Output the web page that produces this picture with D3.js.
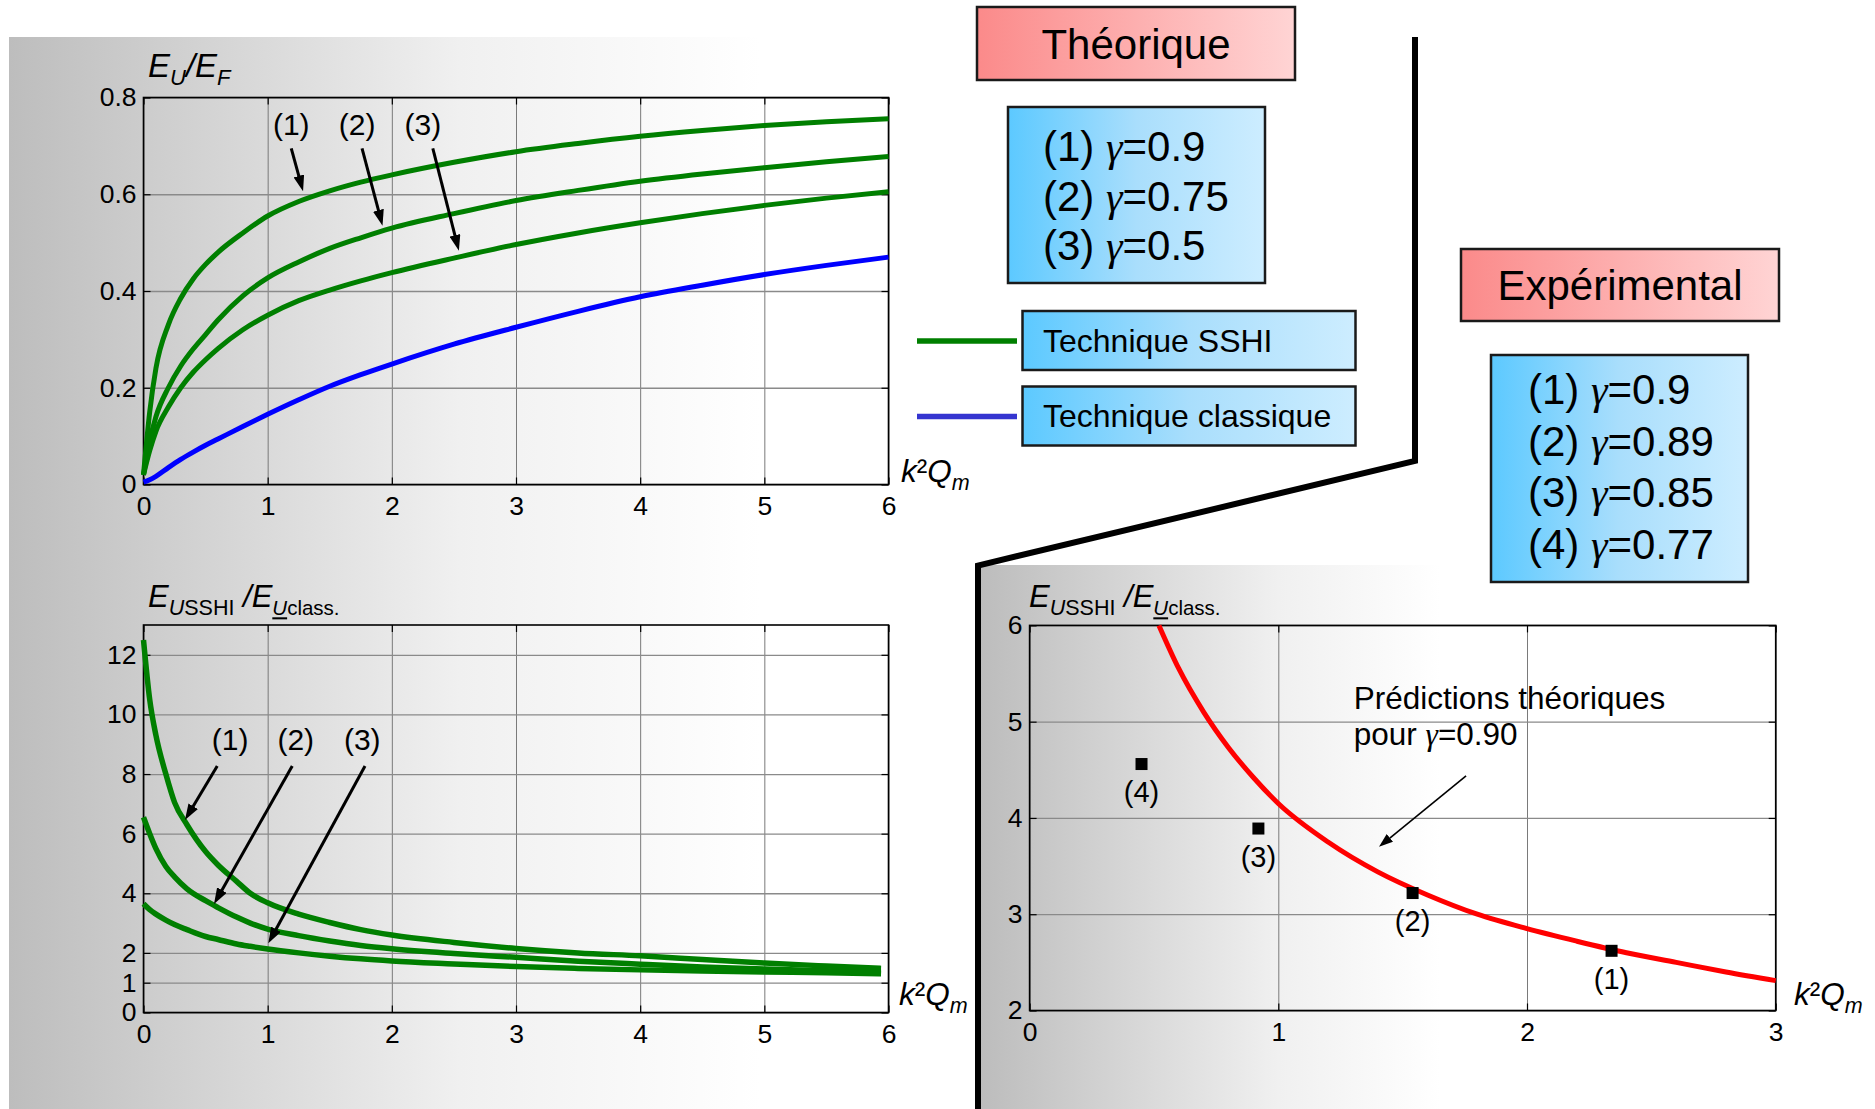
<!DOCTYPE html>
<html><head><meta charset="utf-8">
<script src="https://cdn.jsdelivr.net/npm/d3@7"></script>
<style>
body{margin:0;background:#fff;}
svg{display:block;font-family:"Liberation Sans",Arial,sans-serif;}
</style>
</head><body>
<svg id="c" width="1875" height="1109"></svg>
<script>
// ================= DATA =================
// Top plot: E_U/E_F vs k²Q_m (theory)
const kqTheo       = [0,0.05,0.1,0.2,0.3,0.4,0.5,0.6,0.8,1,1.25,1.5,1.75,2,2.5,3,3.5,4,4.5,5,5.5,6];
const euefG090     = [0.02,0.15,0.24,0.33,0.385,0.425,0.455,0.48,0.52,0.555,0.585,0.607,0.625,0.64,0.666,0.688,0.705,0.72,0.732,0.742,0.75,0.756];
const euefG075     = [0.02,0.09,0.14,0.2,0.245,0.28,0.31,0.34,0.39,0.427,0.46,0.488,0.51,0.53,0.56,0.587,0.608,0.627,0.642,0.655,0.667,0.678];
const euefG050     = [0.02,0.07,0.11,0.16,0.2,0.232,0.258,0.281,0.32,0.35,0.38,0.402,0.421,0.438,0.468,0.496,0.52,0.541,0.56,0.577,0.592,0.605];
const euefClassic  = [0.005,0.01,0.017,0.035,0.052,0.067,0.081,0.094,0.12,0.145,0.175,0.203,0.227,0.249,0.29,0.325,0.358,0.388,0.412,0.434,0.453,0.47];
// Bottom-left: E_USSHI/E_Uclass vs k²Q_m (theory)
const kqRatio      = [0,0.05,0.1,0.18,0.25,0.35,0.5,0.6,0.75,0.86,1,1.25,1.5,1.75,2,2.5,3,3.5,4,4.5,5,5.5,5.94];
const ratioG090    = [12.5,10.5,9.3,8.0,7.05,6.3,5.4,4.95,4.4,4.0,3.68,3.3,3.02,2.78,2.6,2.35,2.15,2.0,1.9,1.78,1.66,1.56,1.48];
const ratioG075    = [6.55,6.0,5.5,4.9,4.55,4.15,3.75,3.52,3.2,3.0,2.8,2.58,2.4,2.25,2.14,1.98,1.85,1.72,1.62,1.53,1.46,1.4,1.35];
const ratioG050    = [3.65,3.45,3.3,3.1,2.95,2.78,2.55,2.45,2.3,2.22,2.13,2.0,1.89,1.8,1.73,1.63,1.54,1.48,1.43,1.39,1.36,1.33,1.3];
// Bottom-right: prediction for gamma=0.90 and experimental points
const kqPred       = [0.52,0.6,0.7,0.8,0.9,1.0,1.2,1.4,1.6,1.8,2.0,2.2,2.4,2.6,2.8,3.0];
const predG090     = [6.0,5.55,5.1,4.73,4.42,4.15,3.75,3.44,3.2,3.0,2.85,2.72,2.6,2.5,2.4,2.31];
const expKq        = [2.34,1.54,0.92,0.45];
const expRatio     = [2.62,3.22,3.89,4.56];
const expLabels    = ["(1)","(2)","(3)","(4)"];
// Ticks
const topXTicks    = [0,1,2,3,4,5,6];
const topYTicks    = [0,0.2,0.4,0.6,0.8];
const blXTicks     = [0,1,2,3,4,5,6];
const blYTicks     = [0,1,2,4,6,8,10,12];
const brXTicks     = [0,1,2,3];
const brYTicks     = [2,3,4,5,6];
// Texts
const curveLabels  = ["(1)","(2)","(3)"];
const theoTitle    = "Théorique";
const expTitle     = "Expérimental";
const theoGammaIds = ["(1)","(2)","(3)"];
const theoGammas   = ["0.9","0.75","0.5"];
const expGammaIds  = ["(1)","(2)","(3)","(4)"];
const expGammas    = ["0.9","0.89","0.85","0.77"];
const legendNames  = ["Technique SSHI","Technique classique"];
const predText     = ["Prédictions théoriques","pour ","γ","=0.90"];
// Annotation anchors (data coordinates)
const topLabelX    = [1.19,1.72,2.25], topLabelY = 0.722;
const topArrowFrom = [[1.19,0.695],[1.76,0.695],[2.33,0.695]];
const topArrowTo   = [[1.285,0.606],[1.925,0.535],[2.54,0.483]];
const blLabelX     = [0.697,1.226,1.762], blLabelY = 8.8;
const blArrowFrom  = [[0.594,8.27],[1.198,8.27],[1.784,8.27]];
const blArrowTo    = [[0.334,6.46],[0.568,3.64],[1.005,2.32]];
const brArrowFrom  = [1.755,4.437], brArrowTo = [1.405,3.70];
const brTextPos    = [1.303,5.134,4.757];

// ================= DRAWING =================
const svg = d3.select('#c');
const defs = svg.append('defs');
const GREEN = '#007f00', BLUE = '#0000ff', RED = '#ff0000';

function linGrad(id, stops, units, x1, x2){
  const g = defs.append('linearGradient').attr('id', id);
  if (units) g.attr('gradientUnits','userSpaceOnUse').attr('x1',x1).attr('x2',x2).attr('y1',0).attr('y2',0);
  else g.attr('x1','0%').attr('x2','100%').attr('y1','0%').attr('y2','0%');
  stops.forEach(s => g.append('stop').attr('offset', s[0]).attr('stop-color', s[1]));
}
linGrad('bgL', [[0,'#bdbdbd'],[0.6,'#f0f0f0'],[1,'#ffffff']], true, 9, 760);
linGrad('bgR', [[0,'#bcbcbc'],[0.65,'#f0f0f0'],[1,'#ffffff']], true, 978, 1440);
linGrad('pink', [[0,'#fb8a8a'],[1,'#ffd4d4']]);
linGrad('blue', [[0,'#5cc9ff'],[0.5,'#a9defc'],[1,'#cdedff']]);

function marker(id, len, wid){
  defs.append('marker').attr('id',id).attr('markerUnits','userSpaceOnUse')
    .attr('markerWidth',len).attr('markerHeight',wid).attr('refX',len).attr('refY',wid/2)
    .attr('orient','auto').append('path').attr('d',`M0,0L${len},${wid/2}L0,${wid}Z`).attr('fill','#000');
}
marker('arrBig', 16, 11);
marker('arrSmall', 14, 10);

// background panels
svg.append('rect').attr('x',9).attr('y',37).attr('width',968).attr('height',1072).attr('fill','url(#bgL)');
svg.append('rect').attr('x',978).attr('y',565).attr('width',897).attr('height',544).attr('fill','url(#bgR)');

function makePlot(F, xd, yd, xt, yt, fmtY){
  const x = d3.scaleLinear().domain(xd).range([F.l, F.r]);
  const y = d3.scaleLinear().domain(yd).range([F.b, F.t]);
  const g = svg.append('g');
  const w = F.r - F.l, h = F.b - F.t;
  // grid
  g.append('g').attr('transform',`translate(0,${F.b})`)
    .call(d3.axisBottom(x).tickValues(xt).tickSize(-h).tickFormat(''))
    .call(a => { a.select('.domain').remove(); a.selectAll('line').attr('stroke','#7a7a7a').attr('stroke-width',1); });
  g.append('g').attr('transform',`translate(${F.l},0)`)
    .call(d3.axisLeft(y).tickValues(yt).tickSize(-w).tickFormat(''))
    .call(a => { a.select('.domain').remove(); a.selectAll('line').attr('stroke','#8a8a8a').attr('stroke-width',1.3); });
  // tick marks + labels
  const styleAx = a => { a.select('.domain').remove(); a.selectAll('line').attr('stroke','#000').attr('stroke-width',1.2);
    a.selectAll('text').attr('fill','#000').attr('font-size',26.5).attr('font-family','"Liberation Sans",Arial,sans-serif'); };
  g.append('g').attr('transform',`translate(0,${F.b})`)
    .call(d3.axisBottom(x).tickValues(xt).tickSize(-7).tickPadding(12).tickFormat(d3.format('d'))).call(styleAx);
  g.append('g').attr('transform',`translate(0,${F.t})`)
    .call(d3.axisTop(x).tickValues(xt).tickSize(-7).tickFormat('')).call(styleAx);
  g.append('g').attr('transform',`translate(${F.l},0)`)
    .call(d3.axisLeft(y).tickValues(yt).tickSize(-7).tickPadding(7).tickFormat(fmtY)).call(styleAx);
  g.append('g').attr('transform',`translate(${F.r},0)`)
    .call(d3.axisRight(y).tickValues(yt).tickSize(-7).tickFormat('')).call(styleAx);
  // box
  g.append('rect').attr('x',F.l).attr('y',F.t).attr('width',w).attr('height',h)
    .attr('fill','none').attr('stroke','#000').attr('stroke-width',1.6);
  return {x, y, g};
}

function drawCurve(P, xs, ys, color, sw){
  const line = d3.line().x(d => P.x(d[0])).y(d => P.y(d[1])).curve(d3.curveMonotoneX);
  P.g.append('path').datum(xs.map((v,i) => [v, ys[i]]))
    .attr('d', line).attr('fill','none').attr('stroke',color).attr('stroke-width',sw)
    .attr('stroke-linejoin','round').attr('stroke-linecap','butt');
}

function arrow(P, from, to, sw, mk, headLen){
  const x1 = P.x(from[0]), y1 = P.y(from[1]), x2 = P.x(to[0]), y2 = P.y(to[1]);
  const L = Math.hypot(x2-x1, y2-y1);
  const ex = x2 - (x2-x1)/L*headLen*0.6, ey = y2 - (y2-y1)/L*headLen*0.6;
  P.g.append('line').attr('x1',x1).attr('y1',y1).attr('x2',ex).attr('y2',ey)
    .attr('stroke','#000').attr('stroke-width',sw);
  P.g.append('path').attr('d',`M${x1},${y1}L${x2},${y2}`).attr('stroke','none').attr('fill','none')
    .attr('marker-end',`url(#${mk})`);
}

function kqLabel(x, y){
  const t = svg.append('text').attr('x',x).attr('y',y).attr('font-size',31.5).attr('font-style','italic');
  t.append('tspan').text('k');
  t.append('tspan').attr('font-style','normal').text('²');
  t.append('tspan').text('Q');
  t.append('tspan').attr('font-size',21.5).attr('dy',8).text('m');
}
function ratioLabel(x, y){
  const t = svg.append('text').attr('x',x).attr('y',y).attr('font-size',31);
  t.append('tspan').attr('font-style','italic').text('E');
  t.append('tspan').attr('font-size',21.5).attr('dy',8.3).attr('font-style','italic').text('U');
  t.append('tspan').attr('font-size',21.5).text('SSHI');
  t.append('tspan').attr('dy',-8.3).attr('font-style','italic').text(' /E');
  t.append('tspan').attr('font-size',20.5).attr('dy',8.3).attr('font-style','italic')
    .style('text-decoration','underline').text('U');
  t.append('tspan').attr('font-size',20.5).text('class.');
}

// ---------- Top plot ----------
const topF = {l:143.5, r:888.5, t:97.5, b:484.5};
const PT = makePlot(topF, [0,6], [0,0.8], topXTicks, topYTicks, d => d === 0 ? '0' : d3.format('.1f')(d));
drawCurve(PT, kqTheo, euefClassic, BLUE, 5);
drawCurve(PT, kqTheo, euefG050, GREEN, 5);
drawCurve(PT, kqTheo, euefG075, GREEN, 5);
drawCurve(PT, kqTheo, euefG090, GREEN, 5);
curveLabels.forEach((s,i) => {
  PT.g.append('text').attr('x',PT.x(topLabelX[i])).attr('y',PT.y(topLabelY)).attr('text-anchor','middle')
    .attr('font-size',30).text(s);
  arrow(PT, topArrowFrom[i], topArrowTo[i], 3, 'arrBig', 16);
});
{
  const t = svg.append('text').attr('x',148).attr('y',77).attr('font-size',33).attr('font-style','italic');
  t.append('tspan').text('E');
  t.append('tspan').attr('font-size',22).attr('dy',8).text('U');
  t.append('tspan').attr('dy',-8).text('/E');
  t.append('tspan').attr('font-size',22).attr('dy',8).text('F');
}
kqLabel(901, 482);

// ---------- Bottom-left plot ----------
const blF = {l:143.5, r:888.5, t:625, b:1012.5};
const PB = makePlot(blF, [0,6], [0,13], blXTicks, blYTicks, d3.format('d'));
drawCurve(PB, kqRatio, ratioG050, GREEN, 5.5);
drawCurve(PB, kqRatio, ratioG075, GREEN, 5.5);
drawCurve(PB, kqRatio, ratioG090, GREEN, 5.5);
curveLabels.forEach((s,i) => {
  PB.g.append('text').attr('x',PB.x(blLabelX[i])).attr('y',PB.y(blLabelY)).attr('text-anchor','middle')
    .attr('font-size',30).text(s);
  arrow(PB, blArrowFrom[i], blArrowTo[i], 3, 'arrBig', 16);
});
ratioLabel(148, 607);
kqLabel(899, 1005);

// ---------- Bottom-right plot ----------
const brF = {l:1029.6, r:1775.7, t:625.4, b:1010.5};
const PR = makePlot(brF, [0,3], [2,6], brXTicks, brYTicks, d3.format('d'));
drawCurve(PR, kqPred, predG090, RED, 5);
PR.g.selectAll('rect.pt').data(expKq).enter().append('rect').attr('class','pt')
  .attr('x',(d) => PR.x(d)-6).attr('y',(d,i) => PR.y(expRatio[i])-6).attr('width',12).attr('height',12).attr('fill','#000');
PR.g.selectAll('text.pl').data(expLabels).enter().append('text').attr('class','pl')
  .attr('x',(d,i) => PR.x(expKq[i])).attr('y',(d,i) => PR.y(expRatio[i]) + 38)
  .attr('text-anchor','middle').attr('font-size',29).text(d => d);
PR.g.append('text').attr('x',PR.x(brTextPos[0])).attr('y',PR.y(brTextPos[1])).attr('font-size',31.5).text(predText[0]);
{
  const t = PR.g.append('text').attr('x',PR.x(brTextPos[0])).attr('y',PR.y(brTextPos[2])).attr('font-size',31.5);
  t.append('tspan').text(predText[1]);
  t.append('tspan').attr('font-family','"Liberation Serif","Times New Roman",serif').attr('font-style','italic').text(predText[2]);
  t.append('tspan').text(predText[3]);
}
arrow(PR, brArrowFrom, brArrowTo, 1.6, 'arrSmall', 14);
ratioLabel(1029, 607);
kqLabel(1794, 1005);

// ---------- Boxes & legend ----------
function box(x, y, w, h, fill){
  svg.append('rect').attr('x',x).attr('y',y).attr('width',w).attr('height',h)
    .attr('fill',`url(#${fill})`).attr('stroke','#1a1a1a').attr('stroke-width',2.5);
}
function gammaLine(x, y, id, val){
  const t = svg.append('text').attr('x',x).attr('y',y).attr('font-size',42);
  t.append('tspan').text(id + ' ');
  t.append('tspan').attr('font-family','"Liberation Serif","Times New Roman",serif').attr('font-style','italic').text('γ');
  t.append('tspan').text('=' + val);
}
box(977, 7, 318, 73, 'pink');
svg.append('text').attr('x',1136).attr('y',59).attr('text-anchor','middle').attr('font-size',42).text(theoTitle);
box(1008, 107, 257, 176, 'blue');
theoGammas.forEach((v,i) => gammaLine(1043, 161 + i*49.5, theoGammaIds[i], v));

box(1461, 249, 318, 72, 'pink');
svg.append('text').attr('x',1620).attr('y',300).attr('text-anchor','middle').attr('font-size',42).text(expTitle);
box(1491, 355, 257, 227, 'blue');
expGammas.forEach((v,i) => gammaLine(1528, 404 + i*51.5, expGammaIds[i], v));

const legendColors = [GREEN, '#3535d0'];
legendNames.forEach((n,i) => {
  const yy = 341 + i*75.5;
  svg.append('line').attr('x1',917).attr('x2',1017).attr('y1',yy).attr('y2',yy)
    .attr('stroke',legendColors[i]).attr('stroke-width',5.5);
  box(1022.5, yy - 30, 333, 59, 'blue');
  svg.append('text').attr('x',1043).attr('y',yy + 10.5).attr('font-size',32).text(n);
});

// ---------- Black divider ----------
svg.append('path').attr('d', d3.line()([[1415,37],[1415,461],[978,565.5],[978,1109]]))
  .attr('fill','none').attr('stroke','#000').attr('stroke-width',6).attr('stroke-linejoin','miter');
</script>
</body></html>
